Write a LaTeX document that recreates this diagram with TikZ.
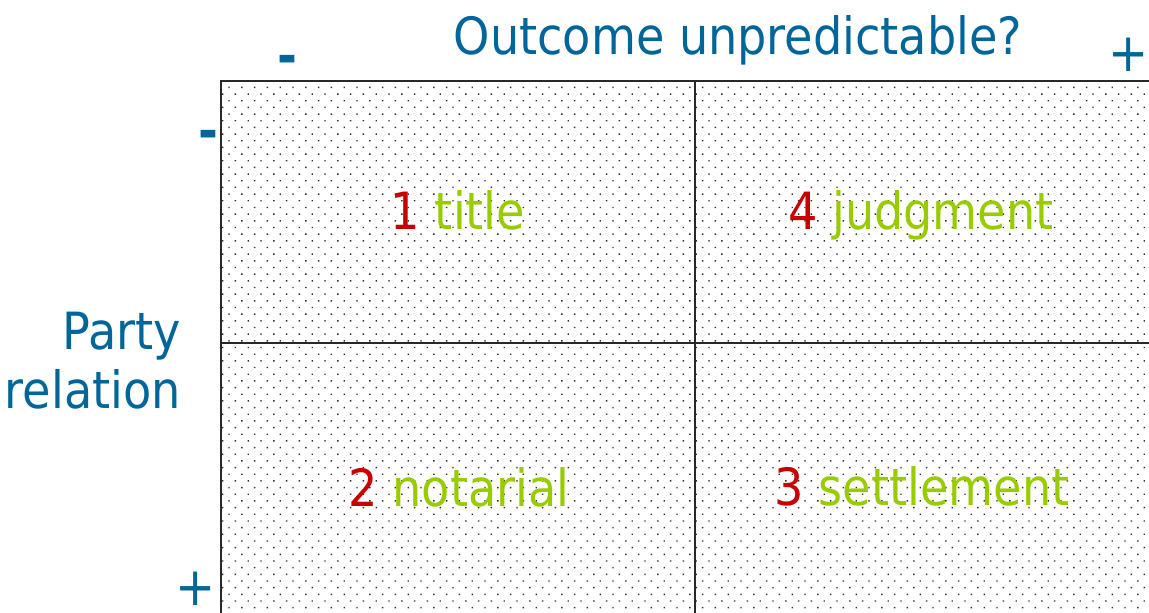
\documentclass[tikz,border=0pt]{standalone}
\usepackage{fontspec}
\setmainfont{DejaVu Sans Condensed}
\definecolor{axisblue}{RGB}{0,102,153}
\definecolor{numred}{RGB}{200,0,0}
\definecolor{wordgreen}{RGB}{153,204,0}
\definecolor{gridgray}{RGB}{40,40,40}
\definecolor{dotgray}{RGB}{45,45,45}
\begin{document}
\begin{tikzpicture}[x=0.75pt,y=-0.75pt,
  axislabel/.style={font=\fontsize{38.5}{44}\selectfont, text=axisblue, inner sep=0pt},
  signlabel/.style={font=\fontsize{40}{44}\selectfont, text=axisblue, inner sep=0pt, anchor=base},
  celllabel/.style={font=\fontsize{38.5}{44}\selectfont, inner sep=0pt, anchor=base},
  gridline/.style={draw=gridgray, line width=1.1pt}]
\useasboundingbox (0,0) rectangle (1149,613);

% staggered dot fill of the four quadrants, one path per row
\begin{scope}
\clip (221,81) rectangle (1149,613);
\foreach \j in {0,...,79} {
  \pgfmathsetmacro{\dy}{86.7+6.67*\j}
  \pgfmathsetmacro{\dx}{228.3-6.4*mod(\j,2)}
  \fill[dotgray] \foreach \i in {0,...,73} {
    ({\dx+12.8*\i},\dy) rectangle ++(1.4,1.4)
  };
}
\end{scope}

% quadrant frame and dividers
\coordinate (tl) at (221,81);
\coordinate (tr) at (1149,81);
\coordinate (bl) at (221,613);
\coordinate (vt) at (695,81);
\coordinate (vb) at (695,613);
\coordinate (hl) at (221,343);
\coordinate (hr) at (1149,343);
\draw[gridline] (bl) -- (tl) -- (tr);
\draw[gridline] (vt) -- (vb);
\draw[gridline] (hl) -- (hr);

% axis titles and signs
\node[axislabel, anchor=base] (xaxis) at (738,55) {Outcome unpredictable?};
\node[axislabel, anchor=base east] (yaxis1) at (181,349) {Party};
\node[axislabel, anchor=base east] (yaxis2) at (181,408) {relation};
\node[signlabel] (xminus) at (287,75) {\textbf{-}};
\node[signlabel] (xplus) at (1129,72) {+};
\node[signlabel] (yminus) at (208,150) {\textbf{-}};
\node[signlabel] (yplus) at (196,605) {+};

% quadrant labels
\node[celllabel] (q1) at (458,229) {\textcolor{numred}{1} \textcolor{wordgreen}{title}};
\node[celllabel] (q4) at (921,229) {\textcolor{numred}{4} \textcolor{wordgreen}{judgment}};
\node[celllabel] (q2) at (459,506) {\textcolor{numred}{2} \textcolor{wordgreen}{notarial}};
\node[celllabel] (q3) at (922,505) {\textcolor{numred}{3} \textcolor{wordgreen}{settlement}};
\end{tikzpicture}
\end{document}
